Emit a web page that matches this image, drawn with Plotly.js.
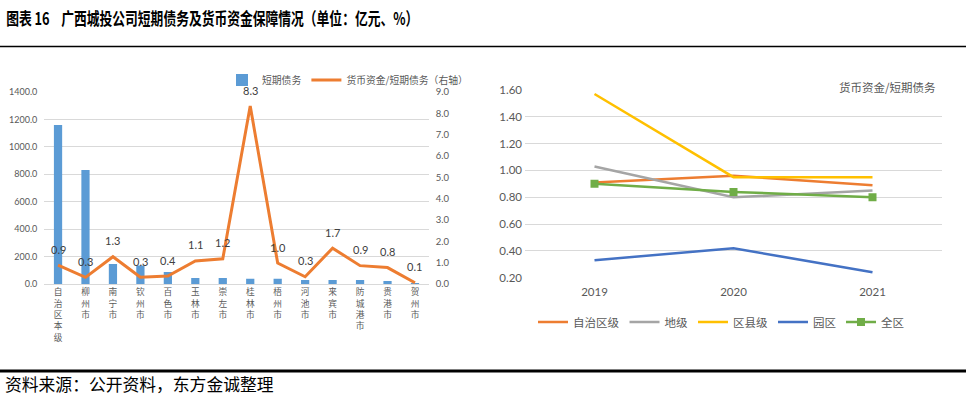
<!DOCTYPE html>
<html>
<head>
<meta charset="utf-8">
<script src="https://cdn.plot.ly/plotly-3.0.1.min.js"></script>
<style>
html,body{margin:0;padding:0;background:#fff;}
#chart{width:966px;height:397px;}
</style>
</head>
<body>
<div id="chart"></div>
<script>
// ---- Data ----
const cities = ['自治区本级','柳州市','南宁市','钦州市','百色市','玉林市','崇左市','桂林市','梧州市','河池市','来宾市','防城港市','贵港市','贺州市'];
const shortDebt = [1160, 832, 146, 134, 88, 44, 44, 39, 39, 29, 30, 30, 22, 8];
const cashRatio = [0.88, 0.31, 1.28, 0.32, 0.37, 1.08, 1.18, 8.34, 0.98, 0.34, 1.68, 0.86, 0.77, 0.06];

const years = ['2019', '2020', '2021'];
const regionLevel = [0.91, 0.96, 0.89];   // 自治区级
const cityLevel = [1.03, 0.80, 0.85];     // 地级
const countyLevel = [1.57, 0.95, 0.95];   // 区县级
const parkLevel = [0.33, 0.42, 0.24];     // 园区
const allRegion = [0.90, 0.84, 0.80];     // 全区

const leftTicks = [0, 200, 400, 600, 800, 1000, 1200, 1400];
const rightTicks = [0, 1, 2, 3, 4, 5, 6, 7, 8, 9];
const r2Ticks = [0.2, 0.4, 0.6, 0.8, 1.0, 1.2, 1.4, 1.6];

// ---- Build ----
const W = 966, H = 397;
const px = v => v / W;
const py = v => (H - v) / H;
const CJK = '"Noto Sans CJK SC", sans-serif';
const NUM = 'Lato, "Noto Sans CJK SC", sans-serif';
const grey = '#595959';

const vertical = cities.map(c => c.split('').join('<br>'));

const traces = [
  {
    type: 'bar', name: '短期债务', x: cities, y: shortDebt,
    xaxis: 'x', yaxis: 'y', marker: {color: '#5b9bd5'}, legend: 'legend'
  },
  {
    type: 'scatter', mode: 'lines', name: '货币资金/短期债务（右轴）', x: cities, y: cashRatio,
    xaxis: 'x', yaxis: 'y2', line: {color: '#ed7d31', width: 3}, legend: 'legend'
  },
  {type: 'scatter', mode: 'lines', name: '自治区级', x: years, y: regionLevel, xaxis: 'x3', yaxis: 'y3',
   line: {color: '#ed7d31', width: 2.5}, legend: 'legend2'},
  {type: 'scatter', mode: 'lines', name: '地级', x: years, y: cityLevel, xaxis: 'x3', yaxis: 'y3',
   line: {color: '#a5a5a5', width: 2.5}, legend: 'legend2'},
  {type: 'scatter', mode: 'lines', name: '区县级', x: years, y: countyLevel, xaxis: 'x3', yaxis: 'y3',
   line: {color: '#ffc000', width: 2.5}, legend: 'legend2'},
  {type: 'scatter', mode: 'lines', name: '园区', x: years, y: parkLevel, xaxis: 'x3', yaxis: 'y3',
   line: {color: '#4472c4', width: 2.5}, legend: 'legend2'},
  {type: 'scatter', mode: 'lines+markers', name: '全区', x: years, y: allRegion, xaxis: 'x3', yaxis: 'y3',
   line: {color: '#70ad47', width: 2.5}, marker: {symbol: 'square', size: 8, color: '#70ad47'}, legend: 'legend2'}
];

const annotations = cities.map((c, i) => ({
  x: c, y: cashRatio[i], xref: 'x', yref: 'y2', text: cashRatio[i].toFixed(1),
  showarrow: false, yshift: 16, font: {family: NUM, size: 11, color: '#404040'}
}));

annotations.push(
  {xref: 'paper', yref: 'paper', x: px(4), y: py(17), xanchor: 'left', yanchor: 'middle',
   text: '<b>图表 16    广西城投公司短期债务及货币资金保障情况（单位：亿元、%）</b>', showarrow: false,
   font: {family: CJK, size: 17.5, color: '#000'}},
  {xref: 'paper', yref: 'paper', x: px(3), y: py(384), xanchor: 'left', yanchor: 'middle',
   text: '资料来源：公开资料，东方金诚整理', showarrow: false,
   font: {family: CJK, size: 16.8, color: '#000'}},
  {xref: 'paper', yref: 'paper', x: px(938), y: py(87), xanchor: 'right', yanchor: 'middle',
   text: '货币资金/短期债务', showarrow: false,
   font: {family: CJK, size: 11.5, color: grey}}
);

const layout = {
  width: W, height: H,
  margin: {l: 0, r: 0, t: 0, b: 0},
  paper_bgcolor: '#fff', plot_bgcolor: 'rgba(0,0,0,0)',
  showlegend: true,
  bargap: 0.7,
  font: {family: NUM, color: grey},
  xaxis: {
    domain: [px(44.3), px(428.7)], anchor: 'y', type: 'category',
    tickvals: cities, ticktext: vertical, tickangle: 0,
    tickfont: {family: CJK, size: 8.7, color: grey},
    showline: true, linecolor: '#d9d9d9', linewidth: 1, ticks: '', showgrid: false,
    fixedrange: true
  },
  yaxis: {
    domain: [py(284), py(92)], anchor: 'x', range: [0, 1400],
    tickvals: leftTicks, ticktext: leftTicks.map(v => v.toFixed(1)),
    tickfont: {family: NUM, size: 9, color: grey},
    showgrid: true, gridcolor: '#d9d9d9', gridwidth: 1, zeroline: false, ticks: '',
    ticklabelstandoff: 6
  },
  yaxis2: {
    overlaying: 'y', side: 'right', anchor: 'x', range: [0, 9],
    tickvals: rightTicks, ticktext: rightTicks.map(v => v.toFixed(1)),
    tickfont: {family: NUM, size: 9.5, color: grey},
    showgrid: false, zeroline: false, ticks: '', ticklabelstandoff: 6
  },
  xaxis3: {
    domain: [px(525), px(942)], anchor: 'y3', type: 'category', range: [-0.5, 2.5],
    tickfont: {family: NUM, size: 11.5, color: grey},
    showline: false, ticks: '', showgrid: false, ticklabelstandoff: 6
  },
  yaxis3: {
    domain: [py(277.7), py(90)], anchor: 'x3', range: [0.2, 1.6],
    tickvals: r2Ticks, ticktext: r2Ticks.map(v => v.toFixed(2)),
    tickfont: {family: NUM, size: 11.5, color: grey},
    showgrid: true, gridcolor: '#d9d9d9', gridwidth: 1, zeroline: false, ticks: '',
    ticklabelstandoff: 2
  },
  legend: {
    orientation: 'h', x: px(222), y: py(80), xanchor: 'left', yanchor: 'middle',
    font: {family: CJK, size: 9.8, color: grey}, bgcolor: 'rgba(0,0,0,0)',
    itemwidth: 30, tracegroupgap: 0, itemclick: false
  },
  legend2: {
    orientation: 'h', x: px(721), y: py(322), xanchor: 'center', yanchor: 'middle',
    font: {family: CJK, size: 11.5, color: grey}, bgcolor: 'rgba(0,0,0,0)',
    itemwidth: 30, itemclick: false
  },
  shapes: [
    {type: 'line', xref: 'paper', yref: 'paper', x0: 0, x1: 1, y0: py(46.5), y1: py(46.5),
     line: {color: '#000', width: 1.5}},
    {type: 'line', xref: 'paper', yref: 'paper', x0: 0, x1: 1, y0: py(371), y1: py(371),
     line: {color: '#000', width: 3}}
  ],
  annotations: annotations
};

Plotly.newPlot('chart', traces, layout, {displayModeBar: false, staticPlot: true}).then(gd => {
  // The reference title uses a condensed heiti face: narrow it horizontally.
  gd.querySelectorAll('.annotation-text').forEach(t => {
    if (t.textContent.indexOf('图表') === 0) {
      t.style.transformBox = 'fill-box';
      t.style.transformOrigin = 'left center';
      t.style.transform = 'scaleX(0.73)';
    }
  });
});
</script>
</body>
</html>
